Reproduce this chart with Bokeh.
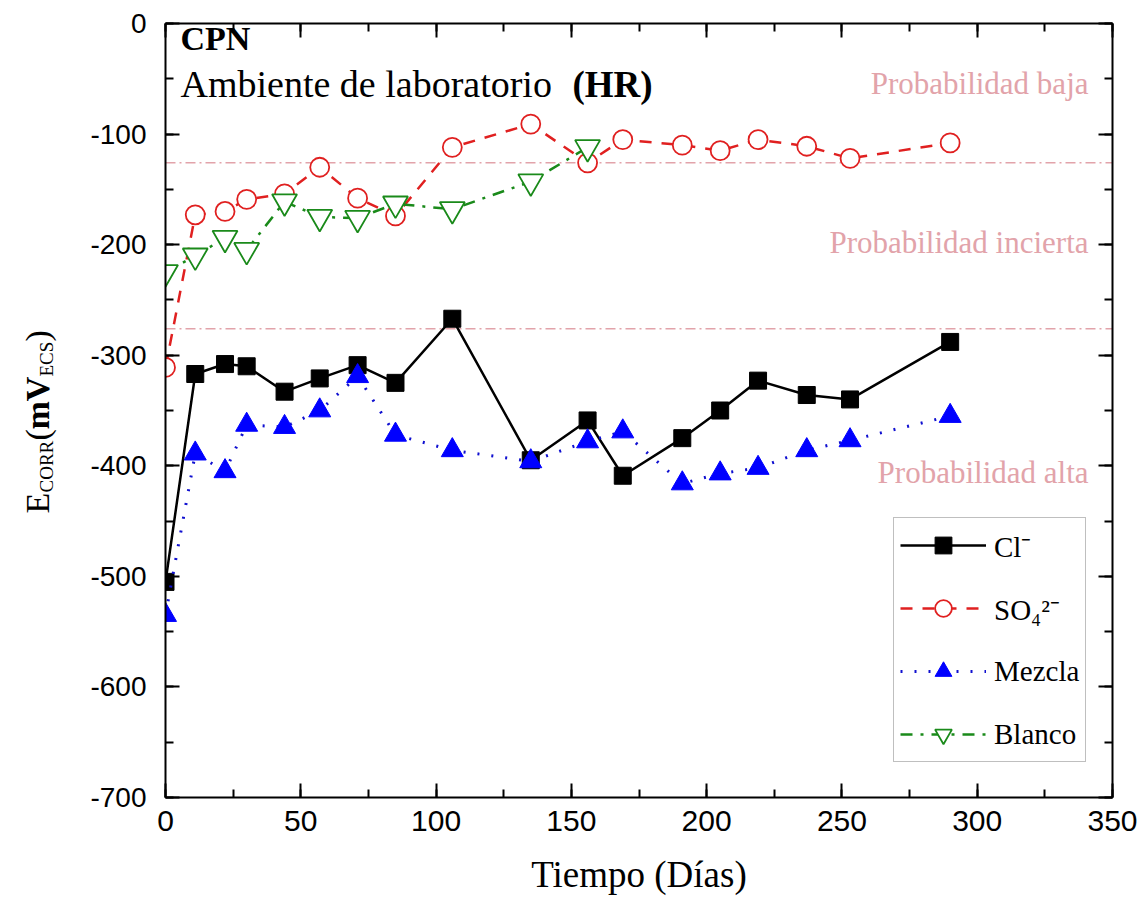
from math import pi
from bokeh.plotting import figure
from bokeh.layouts import row
from bokeh.models import (Range1d, LinearAxis, Label, Span, Legend, LegendItem,
                          SingleIntervalTicker, NumeralTickFormatter)
from bokeh.embed import file_html
from bokeh.resources import INLINE

# ---------------- data ----------------
days = [0, 11, 22, 30, 44, 57, 71, 85, 106, 135, 156, 169, 191, 205, 219, 237, 253, 290]
cl = [-505, -317, -308, -310, -333, -321, -309, -325, -267, -395, -359, -409,
      -375, -350, -323, -336, -340, -288]
so4 = [-311, -173, -170, -159, -154, -130, -158, -174, -112, -91, -126, -105,
       -110, -115, -105, -111, -122, -108]
mezcla = [-535, -389, -405, -363, -365, -350, -319, -372, -386, -396, -378, -369,
          -416, -407, -402, -386, -377, -355]
blanco_days = [0, 11, 22, 30, 44, 57, 71, 85, 106, 135, 156]
blanco = [-225, -210, -194, -205, -161, -175, -176, -163, -168, -143, -112]
thresholds = [-126, -276]
zone_labels = ["Probabilidad baja", "Probabilidad incierta", "Probabilidad alta"]
series_labels = ["Cl\u207b", "SO\u2084\u00b2\u207b", "Mezcla", "Blanco"]

SERIF = "Liberation Serif"
SANS = "Liberation Sans"
PINK = "#e2a3aa"

LEFT_W = 70
TOP_B = 23
BOT_B = 108

# ---------------- main figure ----------------
p = figure(width=1143 - LEFT_W, height=905, x_range=Range1d(0, 350), y_range=Range1d(-700, 0),
           output_backend="svg", toolbar_location=None,
           min_border_left=165 - LEFT_W, min_border_right=31, min_border_top=TOP_B,
           min_border_bottom=BOT_B)
p.xgrid.visible = False
p.ygrid.visible = False
p.outline_line_color = None
p.background_fill_color = "white"
p.border_fill_color = "white"


def style_axis(ax):
    ax.axis_line_width = 2
    ax.axis_line_color = "black"
    ax.major_tick_in = 14
    ax.major_tick_out = 0
    ax.minor_tick_in = 8
    ax.minor_tick_out = 0
    ax.major_tick_line_width = 2
    ax.minor_tick_line_width = 2
    ax.major_tick_line_color = "black"
    ax.minor_tick_line_color = "black"


xa = p.xaxis[0]
xa.ticker = SingleIntervalTicker(interval=50, num_minor_ticks=2)
style_axis(xa)
xa.formatter = NumeralTickFormatter(format="0")
xa.major_label_text_font = SANS
xa.major_label_text_font_size = "30px"
xa.major_label_text_color = "black"
xa.major_label_standoff = 13
xa.axis_label = "Tiempo (Días)"
xa.axis_label_text_font = SERIF
xa.axis_label_text_font_style = "normal"
xa.axis_label_text_font_size = "37px"
xa.axis_label_text_color = "black"
xa.axis_label_standoff = 20

ya = p.yaxis[0]
ya.ticker = SingleIntervalTicker(interval=100, num_minor_ticks=2)
style_axis(ya)
ya.formatter = NumeralTickFormatter(format="0")
ya.major_label_text_font = SANS
ya.major_label_text_font_size = "28px"
ya.major_label_text_color = "black"
ya.major_label_standoff = 19
ya.axis_label = None

top = LinearAxis(ticker=SingleIntervalTicker(interval=50, num_minor_ticks=2),
                 major_label_text_font_size="0px", major_label_text_color=None,
                 major_label_standoff=0)
style_axis(top)
p.add_layout(top, "above")
right = LinearAxis(ticker=SingleIntervalTicker(interval=100, num_minor_ticks=2),
                   major_label_text_font_size="0px", major_label_text_color=None,
                   major_label_standoff=0)
style_axis(right)
p.add_layout(right, "right")

for t in thresholds:
    p.add_layout(Span(location=t, dimension="width", line_color=PINK,
                      line_dash="10 4 2 4", line_width=1.6, level="underlay"))

# ---------------- series ----------------
l_cl = p.line(days, cl, line_color="black", line_width=2.5)
m_cl = p.scatter(days, cl, marker="square", size=17, fill_color="black", line_color="black")

l_so = p.line(days, so4, line_color="#e02020", line_width=2.5, line_dash="12 10")
m_so = p.scatter(days, so4, marker="circle", size=19, fill_color="white",
                 line_color="#e02020", line_width=1.8)

l_mz = p.line(days, mezcla, line_color="#1010d0", line_width=3, line_dash="2 12")
m_mz = p.scatter(days, mezcla, marker="triangle", size=22, fill_color="#0000ff",
                 line_color="#0000ff")

l_bl = p.line(blanco_days, blanco, line_color="#1a8a1a", line_width=2.5, line_dash="12 8 3 8")
m_bl = p.scatter(blanco_days, blanco, marker="inverted_triangle", size=25, fill_color="white",
                 line_color="#1a8a1a", line_width=1.8)

legend = Legend(items=[LegendItem(label=series_labels[0], renderers=[l_cl, m_cl]),
                       LegendItem(label=series_labels[1], renderers=[l_so, m_so]),
                       LegendItem(label=series_labels[2], renderers=[l_mz, m_mz]),
                       LegendItem(label=series_labels[3], renderers=[l_bl, m_bl])],
                location=(728, 35), glyph_width=86, glyph_height=42, spacing=21, padding=6,
                label_text_font=SERIF, label_text_font_size="29px", label_standoff=8,
                label_text_color="black",
                border_line_color="#7f7f7f", border_line_width=1.5,
                background_fill_color="white", background_fill_alpha=1, margin=0)
p.add_layout(legend)

# ---------------- texts inside the frame ----------------
p.add_layout(Label(x=15, y=741, x_units="screen", y_units="screen", text="CPN",
                   text_font=SERIF, text_font_style="bold", text_font_size="34px",
                   text_color="black"))
p.add_layout(Label(x=15, y=693, x_units="screen", y_units="screen",
                   text="Ambiente de laboratorio", text_font=SERIF,
                   text_font_size="38px", text_color="black"))
p.add_layout(Label(x=407, y=693, x_units="screen", y_units="screen", text="(HR)",
                   text_font=SERIF, text_font_style="bold", text_font_size="37px",
                   text_color="black"))

for txt, yy in zip(zone_labels, [697, 538, 308]):
    p.add_layout(Label(x=923, y=yy, x_units="screen", y_units="screen", text=txt,
                       text_font=SERIF, text_font_size="31px", text_color=PINK,
                       text_align="right"))

# ---------------- y-axis title figure (rotated, with subscripts) ----------------
# its frame is aligned with the main frame (same top/bottom borders);
# data units there equal canvas pixels counted from the bottom of the page
yt = figure(width=LEFT_W, height=905, title=None,
            x_range=Range1d(0, LEFT_W), y_range=Range1d(BOT_B, 905 - TOP_B),
            output_backend="svg", toolbar_location=None,
            min_border_left=0, min_border_right=0, min_border_top=TOP_B,
            min_border_bottom=BOT_B, x_axis_location=None, y_axis_location=None)
yt.xgrid.visible = False
yt.ygrid.visible = False
yt.outline_line_color = None
yt.background_fill_color = "white"
yt.border_fill_color = "white"

parts = [("E", "34px", "normal", 37, 392),
         ("CORR", "19px", "normal", 46, 413),
         ("(", "34px", "normal", 37, 465),
         ("mV", "34px", "bold", 37, 476),
         ("ECS", "19px", "normal", 46, 529),
         (")", "34px", "normal", 37, 564)]
for txt, fs, st, xx, yy in parts:
    yt.add_layout(Label(x=xx, y=yy, text=txt,
                        text_font=SERIF, text_font_size=fs, text_font_style=st,
                        text_color="black", angle=pi / 2, text_align="left",
                        text_baseline="alphabetic"))

layout = row(yt, p, spacing=0)
open("out.html", "w").write(file_html(layout, INLINE))
